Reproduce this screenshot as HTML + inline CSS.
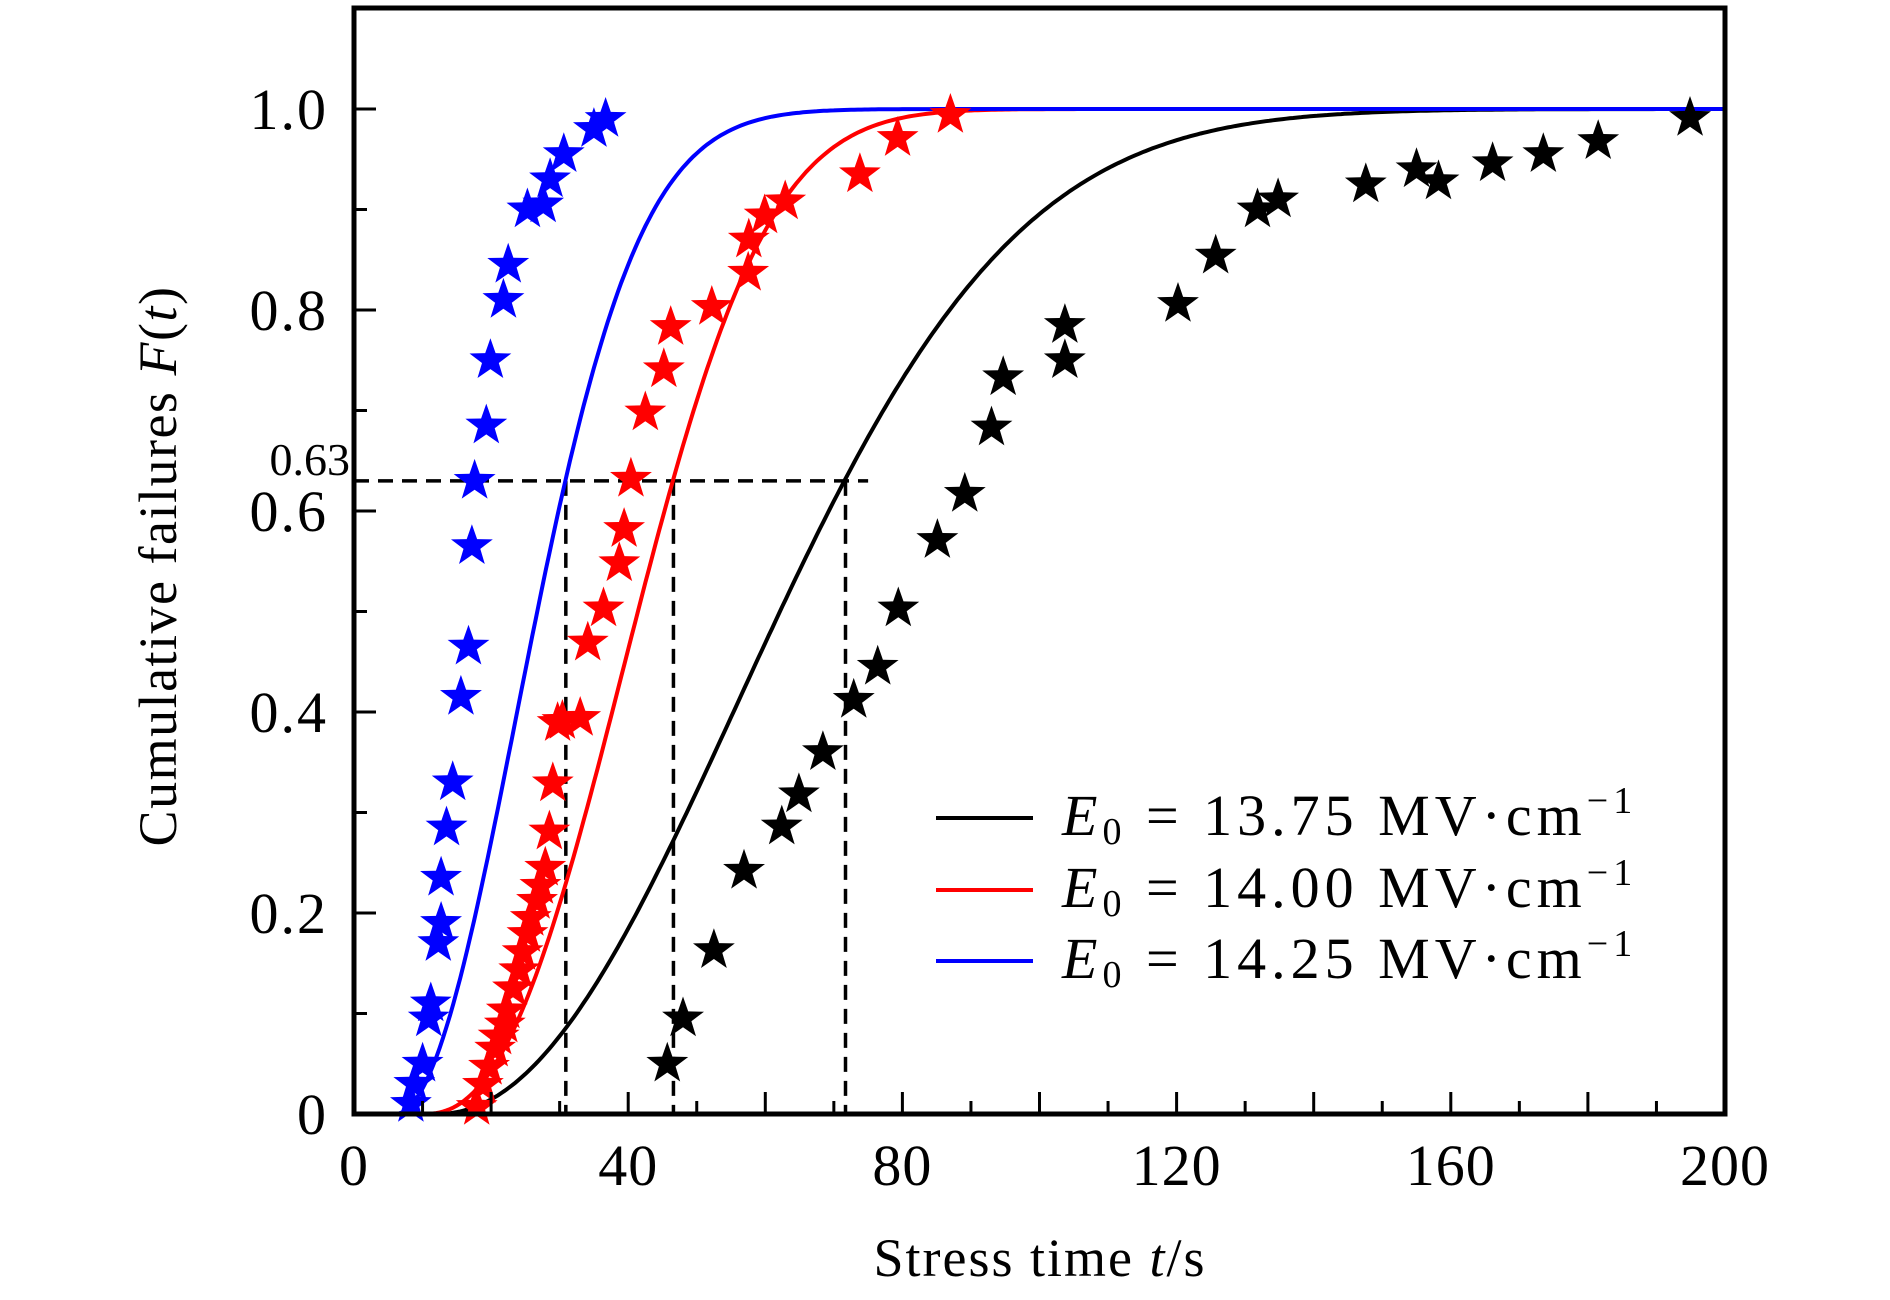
<!DOCTYPE html>
<html><head><meta charset="utf-8"><style>
html,body{margin:0;padding:0;background:#fff}
svg{display:block}
text{font-family:"Liberation Serif",serif;fill:#000}
</style></head><body>
<svg id="chart" width="1890" height="1300" viewBox="0 0 1890 1300" xmlns="http://www.w3.org/2000/svg">
<g id="marks"></g>
<rect x="354" y="8" width="1371" height="1106" fill="none" stroke="#000" stroke-width="5"/>
<g id="axes"></g>
<text transform="translate(176,566) rotate(-90)" text-anchor="middle" font-size="54" letter-spacing="1.5">Cumulative failures <tspan font-style="italic">F</tspan>(<tspan font-style="italic">t</tspan>)</text>
<text x="1040" y="1276" text-anchor="middle" font-size="54" letter-spacing="2">Stress time <tspan font-style="italic">t</tspan>/s</text>
<g>
<line x1="936" y1="818" x2="1033" y2="818" stroke="#000" stroke-width="4"/>
<text x="1062" y="835" font-size="58" letter-spacing="5"><tspan font-style="italic">E</tspan><tspan font-size="38" dy="9">0</tspan><tspan dy="-9"> = 13.75 MV·cm</tspan><tspan font-size="38" dy="-22">−1</tspan></text>
<line x1="936" y1="890" x2="1033" y2="890" stroke="#f00" stroke-width="4"/>
<text x="1062" y="907" font-size="58" letter-spacing="5"><tspan font-style="italic">E</tspan><tspan font-size="38" dy="9">0</tspan><tspan dy="-9"> = 14.00 MV·cm</tspan><tspan font-size="38" dy="-22">−1</tspan></text>
<line x1="936" y1="961" x2="1033" y2="961" stroke="#00f" stroke-width="4"/>
<text x="1062" y="978" font-size="58" letter-spacing="5"><tspan font-style="italic">E</tspan><tspan font-size="38" dy="9">0</tspan><tspan dy="-9"> = 14.25 MV·cm</tspan><tspan font-size="38" dy="-22">−1</tspan></text>
</g>
</svg>
<script>
const xTicks=[0,40,80,120,160,200];
const yTicks=[0,0.2,0.4,0.6,0.8,1.0];
const yTickLabels=["0","0.2","0.4","0.6","0.8","1.0"];
const blueT=[8.3,8.8,10.0,10.9,11.2,12.3,12.7,12.7,13.5,14.4,15.6,16.7,17.2,17.6,19.3,19.9,21.8,22.5,25.3,27.6,28.6,30.6,35.0,36.7];
const blueF=[0.01,0.03,0.05,0.095,0.11,0.17,0.19,0.235,0.285,0.33,0.415,0.465,0.565,0.63,0.685,0.75,0.81,0.845,0.90,0.905,0.93,0.955,0.98,0.99];
const redT=[17.9,18.8,19.7,20.6,21.1,22.0,22.3,23.2,24.1,24.6,25.3,25.8,26.7,27.2,27.9,28.5,29.0,29.7,30.4,33.0,34.1,36.4,38.7,39.4,40.4,42.5,45.2,46.2,52.2,57.5,57.6,59.9,62.9,73.8,79.3,87.0];
const redF=[0.007,0.029,0.047,0.065,0.077,0.089,0.103,0.125,0.143,0.161,0.179,0.195,0.212,0.227,0.245,0.281,0.329,0.389,0.391,0.394,0.469,0.503,0.548,0.582,0.632,0.698,0.741,0.783,0.803,0.837,0.870,0.894,0.908,0.935,0.971,0.994];
const blackT=[45.7,48.0,52.5,56.9,62.4,64.9,68.4,72.9,76.4,79.4,85.1,89.1,93.0,94.7,103.7,103.7,120.2,125.7,131.8,134.8,147.6,155.0,158.2,166.1,173.5,181.5,194.9];
const blackF=[0.050,0.095,0.163,0.242,0.286,0.318,0.360,0.412,0.445,0.503,0.571,0.617,0.683,0.733,0.750,0.785,0.806,0.854,0.900,0.910,0.925,0.940,0.928,0.946,0.955,0.968,0.991];
const etas=[71.7,46.6,30.9];
const t0s=[12,10,6];
const betas=[2.1,2.4,2.0];
const colors=["#000","#f00","#00f"];
const names=["13-75","14-00","14-25"];
const NS="http://www.w3.org/2000/svg";
const X=t=>354+t/200*1371;
const Y=f=>1114-f*1005;
const marks=document.getElementById('marks'),axes=document.getElementById('axes');
function mk(tag,attrs,parent){const e=document.createElementNS(NS,tag);for(const k in attrs)e.setAttribute(k,attrs[k]);parent.appendChild(e);return e;}
let g=mk('path',{d:`M${X(0)},${Y(0.63)}H${X(75)}`,stroke:'#000','stroke-width':3.5,'stroke-dasharray':'15,9',fill:'none'},marks);


etas.forEach((e,i)=>{const v=mk('path',{d:`M${X(e)},${Y(0.63)}V${Y(0)}`,stroke:'#000','stroke-width':3.5,'stroke-dasharray':'15,9',fill:'none'},marks);

});
etas.forEach((e,i)=>{let d='';for(let t=0;t<=200;t+=0.5){const u=Math.max(0,t-t0s[i]);const f=1-Math.exp(-Math.pow(u/(e-t0s[i]),betas[i]));d+=(t?'L':'M')+X(t).toFixed(1)+','+Y(f).toFixed(1);}
const p=mk('path',{d:d,stroke:colors[i],'stroke-width':4,fill:'none'},marks);

});
function star(cx,cy,r){let pts=[];for(let k=0;k<10;k++){const a=-Math.PI/2+k*Math.PI/5;const rr=k%2?r*0.4:r;pts.push((cx+rr*Math.cos(a)).toFixed(1)+','+(cy+rr*Math.sin(a)).toFixed(1));}return pts.join(' ');}
[[blackT,blackF],[redT,redF],[blueT,blueF]].forEach((s,i)=>{s[0].forEach((t,j)=>{const st=mk('polygon',{points:star(X(t),Y(s[1][j]),22),fill:colors[i]},marks);

});});
for(let t=0;t<=200;t+=10){const major=t%20===0;const l=mk('line',{x1:X(t),x2:X(t),y1:Y(0),y2:Y(0)-(major?22:13),stroke:'#000','stroke-width':3},axes);

}
xTicks.forEach(t=>{const tx=mk('text',{x:X(t),y:1185,'text-anchor':'middle','font-size':58,'letter-spacing':1},axes);tx.textContent=t;

});
for(let k=0;k<=10;k++){const f=k/10;const major=k%2===0;const l=mk('line',{x1:X(0),x2:X(0)+(major?22:13),y1:Y(f),y2:Y(f),stroke:'#000','stroke-width':3},axes);

}
yTicks.forEach((f,i)=>{const tx=mk('text',{x:328,y:Y(f)+20,'text-anchor':'end','font-size':58,'letter-spacing':2},axes);tx.textContent=yTickLabels[i];

});
const l63=mk('text',{x:350,y:475,'text-anchor':'end','font-size':46},axes);l63.textContent='0.63';


</script>
</body></html>
